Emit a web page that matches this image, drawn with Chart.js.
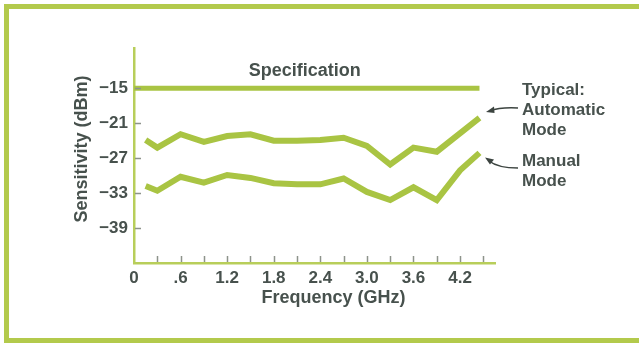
<!DOCTYPE html>
<html>
<head>
<meta charset="utf-8">
<script src="https://cdn.jsdelivr.net/npm/chart.js@4.4.1/dist/chart.umd.min.js"></script>
<style>
    html, body { margin: 0; padding: 0; background: #fff; }
    #wrap { position: relative; width: 639px; height: 346px; }
</style>
</head>
<body>
<div id="wrap"><canvas id="sensChart"></canvas></div>
<script>
// frequencies (GHz)
const freqAuto = [0.15, 0.3, 0.6, 0.9, 1.2, 1.5, 1.8, 2.1, 2.4, 2.7, 3.0, 3.3, 3.6, 3.9, 4.45];
const sensAuto = [-23.9, -25.2, -22.9, -24.2, -23.2, -22.9, -24.0, -24.0, -23.9, -23.5, -24.9, -28.1, -25.2, -25.9, -20.1];

const freqManual = [0.15, 0.3, 0.6, 0.9, 1.2, 1.5, 1.8, 2.1, 2.4, 2.7, 3.0, 3.3, 3.6, 3.9, 4.2, 4.45];
const sensManual = [-31.8, -32.6, -30.2, -31.2, -29.9, -30.4, -31.3, -31.5, -31.5, -30.5, -32.8, -34.2, -32.0, -34.2, -29.1, -26.1];

const specFreq = [0, 4.45];
const specLevel = [-15, -15];

const yTickValues = [-39, -33, -27, -21, -15];
const xTickValues = [0, 0.3, 0.6, 0.9, 1.2, 1.5, 1.8, 2.1, 2.4, 2.7, 3.0, 3.3, 3.6, 3.9, 4.2, 4.5];
const xTickLabels = ['0', '', '.6', '', '1.2', '', '1.8', '', '2.4', '', '3.0', '', '3.6', '', '4.2', ''];

const GREEN = '#a9c443';
const AXIS = '#b8ce5a';
const TEXT = '#47514d';
const FONT = '"Liberation Sans", Arial, sans-serif';

const toPoints = (xs, ys) => xs.map((x, i) => ({ x: x, y: ys[i] }));

// frame, inward tick marks, labels and arrows
const decor = {
    id: 'decor',
    beforeDraw(chart) {
        const c = chart.ctx;
        c.save();
        c.strokeStyle = '#b3ca4c';
        c.lineWidth = 5;
        c.strokeRect(6.5, 6.5, 700, 334);
        c.restore();
    },
    afterDraw(chart) {
        const c = chart.ctx;
        const xs = chart.scales.x, ys = chart.scales.y;
        const a = chart.chartArea;
        c.save();
        c.strokeStyle = '#8d938b';
        c.lineWidth = 1.5;
        xs.ticks.forEach(t => {
            if (t.value === 0) return;
            const px = Math.round(xs.getPixelForValue(t.value)) + 0.5;
            c.beginPath();
            c.moveTo(px, a.bottom - 1);
            c.lineTo(px, a.bottom - 7);
            c.stroke();
        });
        ys.ticks.forEach(t => {
            const py = Math.round(ys.getPixelForValue(t.value)) + 0.5;
            c.beginPath();
            c.moveTo(a.left + 1, py);
            c.lineTo(a.left + 7, py);
            c.stroke();
        });

        c.fillStyle = TEXT;
        c.font = 'bold 18px ' + FONT;
        c.textBaseline = 'middle';
        c.textAlign = 'center';
        c.fillText('Specification', xs.getPixelForValue(2.2), 71);
        c.fillText('Frequency (GHz)', xs.getPixelForValue(2.57), 298);

        c.save();
        c.translate(82, 149);
        c.rotate(-Math.PI / 2);
        c.fillText('Sensitivity (dBm)', 0, 0);
        c.restore();

        c.textAlign = 'left';
        c.font = 'bold 17px ' + FONT;
        c.fillText('Typical:', 522, 90);
        c.fillText('Automatic', 522, 110);
        c.fillText('Mode', 522, 130);
        c.fillText('Manual', 522, 161);
        c.fillText('Mode', 522, 181);

        // pointer arrows
        c.strokeStyle = '#3c4440';
        c.fillStyle = '#3c4440';
        c.lineWidth = 1.5;
        c.beginPath();
        c.moveTo(518, 108);
        c.quadraticCurveTo(500, 107, 490, 111);
        c.stroke();
        c.beginPath();
        c.moveTo(486, 112);
        c.lineTo(494, 106.5);
        c.lineTo(494.5, 113);
        c.closePath();
        c.fill();

        c.beginPath();
        c.moveTo(518, 168);
        c.quadraticCurveTo(498, 168, 489, 161);
        c.stroke();
        c.beginPath();
        c.moveTo(485, 157.5);
        c.lineTo(494, 159.5);
        c.lineTo(490, 164.5);
        c.closePath();
        c.fill();
        c.restore();
    }
};

new Chart(document.getElementById('sensChart'), {
    type: 'line',
    data: {
        datasets: [
            {
                label: 'Specification',
                data: toPoints(specFreq, specLevel),
                borderColor: GREEN,
                borderWidth: 5,
                pointRadius: 0
            },
            {
                label: 'Automatic Mode',
                data: toPoints(freqAuto, sensAuto),
                borderColor: GREEN,
                borderWidth: 6,
                pointRadius: 0
            },
            {
                label: 'Manual Mode',
                data: toPoints(freqManual, sensManual),
                borderColor: GREEN,
                borderWidth: 6,
                pointRadius: 0
            }
        ]
    },
    options: {
        responsive: true,
        maintainAspectRatio: false,
        animation: false,
        layout: { padding: { left: 0, top: 48, right: 144, bottom: 0 } },
        plugins: {
            legend: { display: false },
            tooltip: { enabled: false }
        },
        scales: {
            x: {
                type: 'linear',
                min: 0,
                max: 4.65,
                afterBuildTicks: s => { s.ticks = xTickValues.map(v => ({ value: v })); },
                afterFit: s => { s.height = 83; },
                grid: { display: true, drawOnChartArea: false, drawTicks: false },
                border: { color: AXIS, width: 2.5 },
                ticks: {
                    autoSkip: false,
                    maxRotation: 0,
                    padding: 5,
                    color: TEXT,
                    font: { family: FONT, size: 17, weight: 'bold' },
                    callback: (v, i) => xTickLabels[i]
                }
            },
            y: {
                min: -45,
                max: -8.1,
                afterBuildTicks: s => { s.ticks = yTickValues.map(v => ({ value: v })); },
                afterFit: s => { s.width = 134; },
                grid: { display: true, drawOnChartArea: false, drawTicks: false },
                border: { color: AXIS, width: 2.5 },
                ticks: {
                    padding: 6,
                    color: TEXT,
                    font: { family: FONT, size: 17, weight: 'bold' },
                    callback: v => '\u2212' + Math.abs(v)
                }
            }
        }
    },
    plugins: [decor]
});
</script>
</body>
</html>
